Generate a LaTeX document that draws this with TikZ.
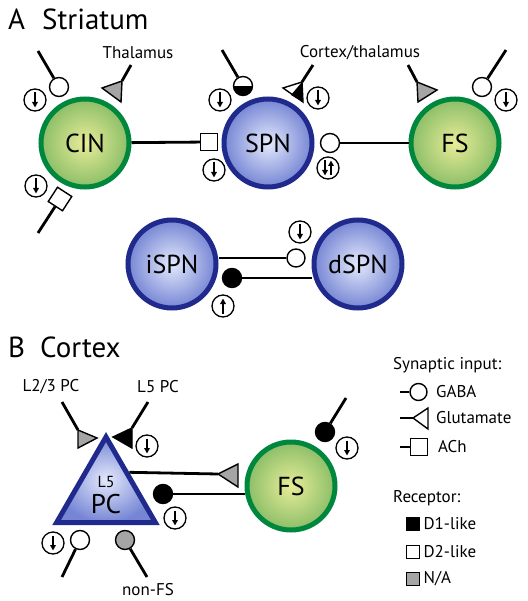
\documentclass[tikz,border=0pt]{standalone}
\usepackage{fontspec}
\setmainfont{PT Sans}
\usetikzlibrary{arrows.meta,shapes.geometric,positioning}

\definecolor{navy}{RGB}{32,42,140}
\definecolor{bin}{RGB}{228,233,252}
\definecolor{bout}{RGB}{118,134,212}
\definecolor{cgreen}{RGB}{0,135,62}
\definecolor{gin}{RGB}{232,236,152}
\definecolor{gout}{RGB}{140,190,104}
\definecolor{syngray}{RGB}{165,165,165}

\tikzset{
  recarrow/.style={line width=1.5pt,-{Triangle[length=5.5pt,width=5.5pt]}},
  rec/.style={circle, draw, fill=white, line width=1.3pt, minimum size=22pt, inner sep=0pt},
  recdown/.style={rec, path picture={
      \draw[recarrow] ([yshift=-3.5pt]path picture bounding box.north)
        -- ([yshift=3.5pt]path picture bounding box.south);}},
  recup/.style={rec, path picture={
      \draw[recarrow] ([yshift=3.5pt]path picture bounding box.south)
        -- ([yshift=-3.5pt]path picture bounding box.north);}},
  recboth/.style={rec, path picture={
      \draw[recarrow] ([xshift=-3pt,yshift=-3.5pt]path picture bounding box.north)
        -- ([xshift=-3pt,yshift=3.5pt]path picture bounding box.south);
      \draw[recarrow] ([xshift=3pt,yshift=3.5pt]path picture bounding box.south)
        -- ([xshift=3pt,yshift=-3.5pt]path picture bounding box.north);}}
}

\begin{document}
\begin{tikzpicture}[
  x=1pt, y=-1pt,
  cellg/.style={circle, line width=5pt, draw=cgreen, inner color=gin, outer color=gout,
    minimum size=88pt, inner sep=0pt, font=\fontsize{26}{26}\selectfont},
  cellb/.style={cellg, draw=navy, inner color=bin, outer color=bout},
  stem/.style={line width=2.8pt},
  gaba/.style={circle, draw, fill=white, line width=1.4pt, minimum size=19pt, inner sep=0pt},
  gabaD1/.style={gaba, fill=black},
  gabaNA/.style={gaba, fill=syngray},
  ach/.style={rectangle, draw, fill=white, line width=1.4pt, minimum size=17pt, inner sep=0pt},
  glut/.style={line width=1.4pt, line join=miter},
  sq/.style={rectangle, draw, line width=0.8pt, minimum size=13pt, inner sep=0pt},
  lab/.style={inner sep=0pt, font=\fontsize{17}{19}\selectfont},
  ttl/.style={inner sep=0pt, anchor=base west, font=\fontsize{29}{30}\selectfont}
]
\useasboundingbox (0,0) rectangle (527,601);

% Titles
\node[ttl] (tA) at (8,30) {A};
\node[ttl] (tAname) at (42,30) {Striatum};
\node[ttl] (tB) at (8,357) {B};
\node[ttl] (tBname) at (40,357) {Cortex};

% Striatum cells
\node[cellg] (CIN) at (85,143) {CIN};
\node[cellb] (SPN) at (268,143) {SPN};
\node[cellg] (FS) at (455,143) {FS};
\node[cellb] (iSPN) at (172,264) {iSPN};
\node[cellb] (dSPN) at (358,264) {dSPN};

% CIN -> SPN and SPN -> FS
\node[ach] (aSPN) at (209,142) {};
\draw[stem] (CIN) -- (aSPN);
\node[recdown] (rSPNa) at (214,170) {};
\node[gaba] (gFS) at (330,143) {};
\draw[stem] (gFS) -- (FS);
\node[recboth] (rFSg) at (328,168) {};

% CIN inputs
\coordinate (sCINg) at (38,51);
\node[gaba] (gCIN) at (59,87) {};
\draw[stem] (sCINg) -- (gCIN);
\node[recdown] (rCINg) at (35,100) {};
\coordinate (sCINa) at (38,233);
\node[ach, rotate=57] (aCIN) at (60,199) {};
\draw[stem] (sCINa) -- (aCIN);
\node[recdown] (rCINa) at (36,186) {};
\coordinate (sThal) at (131,65);
\coordinate (tThal) at (122,81);
\draw[stem] (sThal) -- (tThal);
\filldraw[glut, fill=syngray] (tThal) -- (102,88) -- (121,102) -- cycle;
\node[lab] (lThal) at (138,53) {Thalamus};

% SPN inputs
\coordinate (sSPNg) at (222,50);
\node[gaba, path picture={\fill[black, rotate around={17:(path picture bounding box.center)}]
  ([xshift=-15pt]path picture bounding box.center) rectangle ++(30pt,-15pt);}] (hSPN) at (243,86) {};
\draw[stem] (sSPNg) -- (hSPN);
\node[recdown] (rSPNg) at (220,100) {};
\coordinate (sSPNt) at (313,65);
\coordinate (tSPN) at (302,82);
\draw[stem] (sSPNt) -- (tSPN);
\fill[white] (tSPN) -- (283,88) -- (303,102) -- cycle;
\fill[black] (tSPN) -- (291,95) -- (303,102) -- cycle;
\draw[glut] (tSPN) -- (283,88) -- (303,102) -- cycle;
\node[recdown] (rSPNt) at (318,98) {};
\node[lab] (lCtx) at (360,53) {Cortex/thalamus};

% FS inputs
\coordinate (sFSt) at (408,65);
\coordinate (tFS) at (417,82);
\draw[stem] (sFSt) -- (tFS);
\filldraw[glut, fill=syngray] (tFS) -- (437,90) -- (418,102) -- cycle;
\coordinate (sFSg) at (506,50);
\node[gaba] (gFSt) at (482,87) {};
\draw[stem] (sFSg) -- (gFSt);
\node[recdown] (rFSt) at (506,100) {};

% iSPN <-> dSPN
\node[gaba, minimum size=18pt] (gdSPN) at (296,258) {};
\draw[stem] (iSPN.east |- gdSPN) -- (gdSPN);
\node[recdown] (rdSPN) at (300,232) {};
\node[gabaD1] (biSPN) at (232,278) {};
\draw[stem] (biSPN) -- (biSPN -| dSPN.west);
\node[recup] (riSPN) at (223,306) {};

% Cortex cells
\node[regular polygon, regular polygon sides=3, minimum size=114pt, inner sep=0pt,
  line width=5pt, draw=navy, inner color=bin, outer color=bout] (PC) at (106,494) {};
\node[lab, font=\fontsize{16}{16}\selectfont] (lL5) at (106,482) {L5};
\node[inner sep=0pt, font=\fontsize{27}{27}\selectfont] (lPC) at (106,504) {PC};
\node[cellg] (FSb) at (291,486) {FS};

% PC <-> FS
\coordinate (tFSb) at (218,474);
\draw[stem] (PC.43) -- (tFSb);
\filldraw[glut, fill=syngray] (tFSb) -- (238,464) -- (238,487) -- cycle;
\node[gabaD1] (bPC) at (163,494) {};
\draw[stem] (bPC) -- (bPC -| FSb.west);
\node[recdown] (rPCb) at (175,518) {};

% PC inputs
\coordinate (sL23) at (62,402);
\coordinate (tL23) at (78,430);
\draw[stem] (sL23) -- (tL23);
\filldraw[glut, fill=syngray] (tL23) -- (97,438) -- (78,448) -- cycle;
\node[lab] (lL23) at (51,387) {L2/3 PC};
\coordinate (sL5) at (148,402);
\coordinate (tL5) at (132,428);
\draw[stem] (sL5) -- (tL5);
\filldraw[glut, fill=black] (tL5) -- (113,437) -- (132,448) -- cycle;
\node[lab] (lL5PC) at (158,387) {L5 PC};
\node[recdown] (rL5) at (147,446) {};
\coordinate (sPCg) at (62,577);
\node[gaba] (gPC) at (80,540) {};
\draw[stem] (sPCg) -- (gPC);
\node[recdown] (rPCg) at (53,543) {};
\coordinate (sNFS) at (147,577);
\node[gabaNA] (nPC) at (125,540) {};
\draw[stem] (sNFS) -- (nPC);
\node[lab] (lNFS) at (148,590) {non-FS};

% FS input
\coordinate (sFSb) at (346,398);
\node[gabaD1] (bFSb) at (325,432) {};
\draw[stem] (sFSb) -- (bFSb);
\node[recdown] (rFSb) at (347,448) {};

% Legend
\node[lab, anchor=west] (lgSyn) at (393,365) {Synaptic input:};
\coordinate (lsGABA) at (400,392);
\node[gaba, minimum size=17pt] (lgGABA) at (418.5,392) {};
\draw[stem, line width=1.8pt] (lsGABA) -- (lgGABA);
\node[lab, anchor=west] (ltGABA) at (436,392) {GABA};
\coordinate (lsGlut) at (400,418);
\coordinate (lgGlut) at (413,418);
\draw[stem, line width=1.8pt] (lsGlut) -- (lgGlut);
\draw[glut, fill=white] (lgGlut) -- (428,408) -- (428,429) -- cycle;
\node[lab, anchor=west] (ltGlut) at (436,418) {Glutamate};
\coordinate (lsACh) at (400,447);
\node[ach] (lgACh) at (419,447) {};
\draw[stem, line width=1.8pt] (lsACh) -- (lgACh);
\node[lab, anchor=west] (ltACh) at (438,447) {ACh};
\node[lab, anchor=west] (lgRec) at (393,498) {Receptor:};
\node[sq, fill=black] (sqD1) at (412.5,524) {};
\node[lab, anchor=west, right=4pt of sqD1] (ltD1) {D1-like};
\node[sq, fill=white] (sqD2) at (412.5,552) {};
\node[lab, anchor=west, right=4pt of sqD2] (ltD2) {D2-like};
\node[sq, fill=syngray] (sqNA) at (412.5,579) {};
\node[lab, anchor=west, right=4pt of sqNA] (ltNA) {N/A};
\end{tikzpicture}
\end{document}
